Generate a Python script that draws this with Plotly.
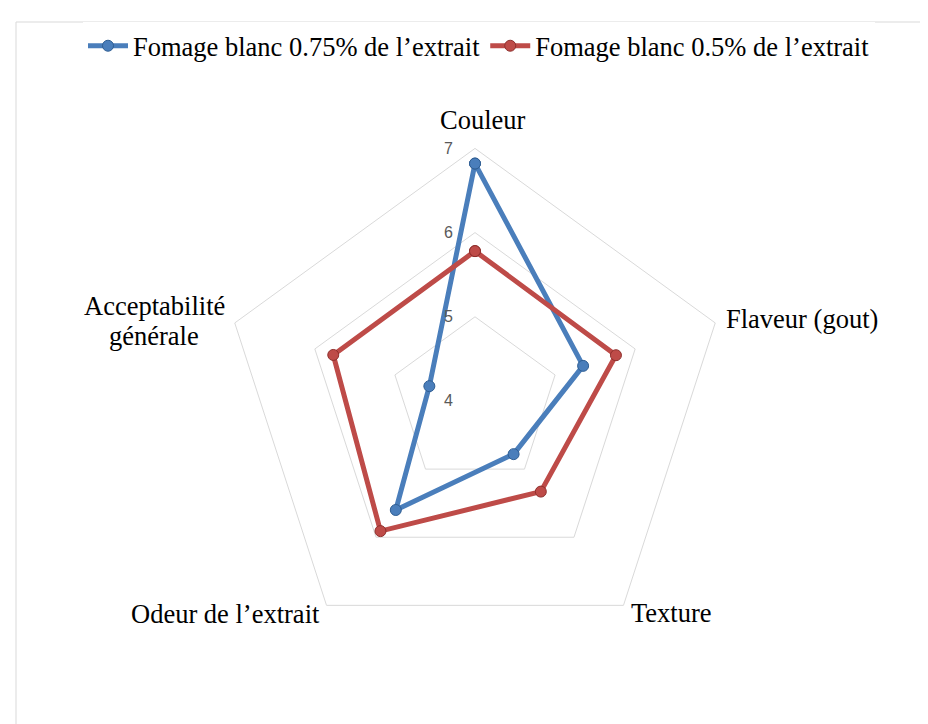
import plotly.graph_objects as go

categories = ["Couleur", "Flaveur (gout)", "Texture", "Odeur de l’extrait", "Acceptabilité<br>générale"]
series_names = ["Fomage blanc 0.75% de l’extrait", "Fomage blanc 0.5% de l’extrait"]
values_075 = [6.82, 5.35, 4.78, 5.60, 4.57]
values_05 = [5.78, 5.76, 5.33, 5.91, 5.77]
radial_ticks = [4, 5, 6, 7]

colors = ["#4A7EBB", "#BE4B48"]
edge = ["#2F5E93", "#8E2F2C"]

fig = go.Figure()
for name, vals, c, e in [(series_names[0], values_075, colors[0], edge[0]),
                         (series_names[1], values_05, colors[1], edge[1])]:
    fig.add_trace(go.Scatterpolar(
        r=vals + vals[:1],
        theta=categories + categories[:1],
        mode="lines+markers",
        name=name,
        line=dict(color=c, width=5),
        marker=dict(size=11, color=c, line=dict(color=e, width=1)),
    ))

W, H = 928, 724
cx, cy, R = 467, 393, 252.6
FS = 26.5

# category label placement (pixels): x, y-center, anchor
label_pos = [
    (475, 112, "center"),
    (716, 311, "left"),
    (621, 605, "left"),
    (314, 606, "right"),
    (146, 298, "center"),
]
annotations = []
for cat, (px, py, anc) in zip(categories, label_pos):
    for i, part in enumerate(cat.split("<br>")):
        annotations.append(dict(
            text=part, xref="paper", yref="paper",
            x=px / W, y=1 - (py + i * 30) / H, xanchor=anc, yanchor="middle",
            showarrow=False, font=dict(family="Liberation Serif", size=FS, color="#000000"),
        ))

fig.update_layout(
    width=W, height=H,
    margin=dict(l=0, r=0, t=0, b=0),
    paper_bgcolor="white",
    plot_bgcolor="white",
    font=dict(family="Liberation Serif", size=FS, color="#000000"),
    showlegend=True,
    legend=dict(orientation="h", x=471 / W, xanchor="center", y=1 - 38 / H, yanchor="middle",
                font=dict(family="Liberation Serif", size=FS, color="#000000"),
                itemwidth=40, tracegroupgap=0),
    polar=dict(
        domain=dict(x=[(cx - R) / W, (cx + R) / W], y=[(H - cy - R) / H, (H - cy + R) / H]),
        bgcolor="white",
        gridshape="linear",
        radialaxis=dict(
            range=[4, 7], tickvals=radial_ticks, angle=90, side="counterclockwise",
            showline=False, gridcolor="#D9D9D9", gridwidth=1,
            ticks="outside", ticklen=16, tickcolor="rgba(0,0,0,0)",
            tickfont=dict(family="Liberation Sans", size=16, color="#595959"),
            tickangle=90,
        ),
        angularaxis=dict(
            direction="clockwise", rotation=90,
            showgrid=False, showline=True, linecolor="#D9D9D9", linewidth=1,
            ticks="", showticklabels=False,
        ),
    ),
    annotations=annotations,
    shapes=[dict(type="rect", xref="paper", yref="paper",
                 x0=8 / W, x1=1.02, y0=-0.02, y1=1 - 14 / H,
                 line=dict(color="#D9D9D9", width=1), fillcolor="rgba(0,0,0,0)")],
)

fig.write_html("out.html")
